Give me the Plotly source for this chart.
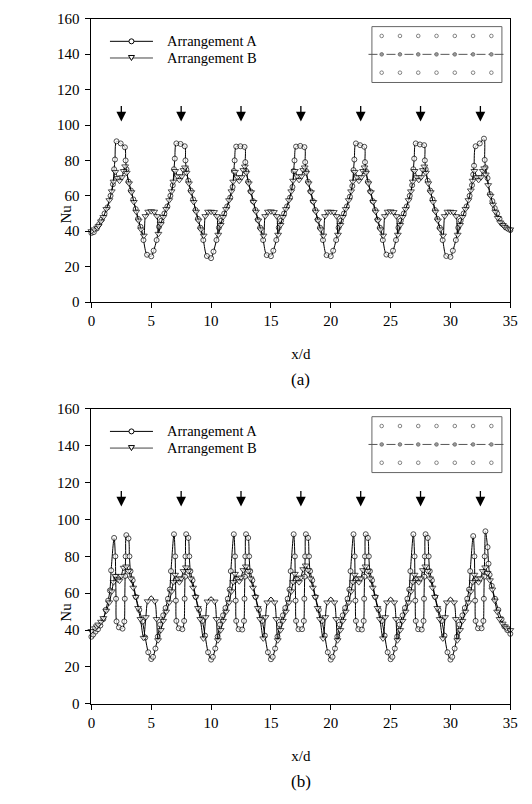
import plotly.graph_objects as go

FONT = "Liberation Serif"

# ---------------------------------------------------------------------------
# Data: Nu along x/d for two jet arrangements, two measurement lines (a), (b).
# Each 5d cycle (one jet) is sampled at the listed offsets from the cycle start.
# ---------------------------------------------------------------------------
cycle_start = [0, 5, 10, 15, 20, 25, 30]
jet_x = [2.5, 7.5, 12.5, 17.5, 22.5, 27.5, 32.5]
x_end = 35

# ---- panel (a), Arrangement A ----
a_A_off = [0.0, 0.2, 0.45, 0.65, 0.85, 1.1, 1.35, 1.6, 1.8, 1.9, 1.97, 2.1,
           2.45, 2.8, 2.86, 2.93, 3.1, 3.3, 3.5, 3.7, 3.9, 4.1, 4.35, 4.65]
a_A_nu = [
    [39.0, 39.5, 41.5, 44.0, 46.5, 50.0, 53.5, 60.0, 66.5, 75.0, 80.5, 90.8,
     89.6, 87.4, 80.0, 75.0, 68.0, 63.0, 58.0, 52.5, 47.0, 42.5, 35.0, 26.7],
    [25.8, 29.0, 35.0, 42.5, 46.0, 50.0, 54.0, 60.0, 66.0, 75.0, 81.0, 89.6,
     89.3, 88.0, 80.0, 75.0, 68.5, 63.0, 58.0, 52.0, 47.0, 42.0, 35.0, 26.0],
    [24.8, 28.5, 35.0, 42.0, 46.0, 50.0, 54.0, 59.0, 65.0, 74.0, 80.0, 87.8,
     88.0, 87.6, 79.0, 74.0, 68.0, 62.5, 57.0, 52.0, 46.5, 42.0, 35.0, 26.5],
    [25.9, 29.0, 35.0, 42.0, 46.0, 50.0, 54.0, 59.0, 65.0, 74.0, 80.0, 87.8,
     88.2, 87.5, 79.0, 74.0, 68.0, 62.5, 57.0, 52.0, 46.5, 42.0, 35.0, 26.5],
    [25.9, 29.0, 35.0, 42.0, 46.0, 50.0, 54.0, 59.5, 65.5, 74.5, 80.5, 89.6,
     88.6, 87.7, 79.0, 74.0, 68.0, 62.5, 57.0, 52.0, 46.5, 42.0, 35.0, 26.8],
    [26.3, 29.0, 35.0, 42.0, 46.0, 50.0, 54.0, 60.0, 66.0, 75.0, 81.0, 89.6,
     89.0, 88.6, 80.0, 75.0, 68.5, 63.0, 58.0, 52.0, 47.0, 42.0, 35.0, 26.0],
    [25.5, 29.0, 35.0, 42.0, 46.0, 50.0, 54.0, 60.0, 66.0, 72.0, 77.0, 88.0,
     89.6, 92.3, 80.3, 76.0, 70.0, 61.0, 57.0, 53.0, 50.0, 47.0, 44.0, 42.0],
]
a_A_last = 40.6

# ---- panel (a), Arrangement B ----
a_B_off = [0.0, 0.25, 0.48, 0.6, 0.8, 1.0, 1.25, 1.5, 1.7, 1.85, 2.0, 2.2, 2.35,
           2.55, 2.7, 2.82, 2.95, 3.15, 3.35, 3.55, 3.75, 3.95, 4.15, 4.38, 4.52, 4.75]
a_B_nu = [
    [40.0, 41.0, 42.0, 43.0, 45.5, 48.0, 52.5, 57.5, 62.5, 68.0, 73.5, 70.0, 68.5,
     70.5, 74.0, 76.6, 73.0, 67.0, 62.0, 56.5, 51.0, 46.0, 41.0, 37.5, 48.5, 51.0],
    [51.3, 51.0, 48.5, 38.5, 44.0, 48.0, 52.5, 57.5, 62.5, 68.0, 74.0, 71.0, 69.0,
     71.0, 74.5, 76.0, 73.0, 67.0, 62.0, 56.5, 51.0, 46.0, 41.0, 37.5, 48.5, 51.0],
    [51.0, 50.8, 48.5, 38.0, 43.5, 48.0, 52.5, 57.5, 62.5, 68.0, 73.5, 70.5, 68.5,
     70.5, 74.5, 76.5, 73.0, 67.0, 62.0, 56.5, 51.0, 46.0, 41.0, 37.5, 48.5, 51.0],
    [51.2, 50.8, 48.5, 38.0, 43.5, 48.0, 52.5, 57.5, 62.5, 68.5, 74.0, 71.0, 69.0,
     71.0, 74.5, 76.0, 73.0, 67.0, 62.0, 56.5, 51.0, 46.0, 41.0, 37.5, 48.5, 51.0],
    [51.0, 50.8, 48.5, 38.0, 43.5, 48.0, 52.5, 57.5, 62.5, 68.0, 73.5, 70.5, 68.5,
     70.5, 74.0, 76.0, 73.0, 67.0, 62.0, 56.5, 51.0, 46.0, 41.0, 37.5, 48.5, 51.0],
    [51.2, 50.8, 48.5, 38.0, 43.5, 48.0, 52.5, 57.5, 62.5, 68.0, 74.0, 70.5, 69.0,
     70.5, 74.5, 76.5, 73.0, 67.0, 62.0, 56.5, 51.0, 46.0, 41.0, 37.5, 48.5, 51.0],
    [51.0, 50.8, 48.5, 38.0, 43.5, 48.0, 52.5, 57.5, 63.0, 68.5, 74.0, 70.5, 69.0,
     70.5, 74.0, 75.5, 72.0, 66.0, 60.0, 55.0, 51.0, 47.5, 45.0, 43.5, 42.5, 41.5],
]
a_B_last = 41.0

# ---- panel (b), Arrangement A ----
b_A_off = [0.0, 0.15, 0.35, 0.55, 0.75, 1.0, 1.2, 1.4, 1.55, 1.65, 1.9, 2.0, 2.03,
           2.06, 2.1, 2.3, 2.6, 2.75, 2.79, 2.82, 2.86, 2.92, 3.1, 3.18, 3.27, 3.45,
           3.72, 4.0, 4.27, 4.5, 4.75]
b_A_nu = [
    [36.4, 37.6, 39.2, 40.5, 42.5, 46.0, 51.0, 56.0, 61.5, 72.4, 90.0, 80.0, 69.0,
     57.0, 44.7, 41.5, 40.8, 44.7, 57.0, 69.4, 80.0, 91.5, 89.7, 80.0, 72.0, 67.0,
     58.0, 51.0, 44.7, 36.0, 28.0],
    [24.3, 25.5, 30.0, 36.5, 43.0, 48.0, 52.0, 57.0, 62.0, 72.0, 92.0, 80.0, 67.0,
     56.0, 45.0, 41.0, 40.5, 45.0, 57.0, 69.0, 80.0, 92.0, 90.0, 80.0, 72.0, 67.0,
     58.0, 51.0, 45.0, 37.0, 28.0],
    [24.0, 25.5, 30.0, 36.5, 43.0, 48.0, 52.0, 57.0, 62.0, 72.0, 92.0, 80.0, 67.0,
     56.0, 45.0, 40.5, 40.3, 45.0, 57.0, 69.0, 80.0, 92.0, 90.0, 80.0, 72.0, 67.0,
     58.0, 51.0, 45.0, 37.0, 28.0],
    [24.2, 25.5, 30.0, 36.5, 43.0, 48.0, 52.0, 57.0, 62.0, 72.0, 92.0, 80.0, 67.0,
     56.0, 45.0, 40.5, 40.5, 45.0, 57.0, 69.0, 80.0, 92.0, 90.0, 80.0, 72.0, 67.0,
     58.0, 51.0, 45.0, 37.0, 28.0],
    [24.0, 25.5, 30.0, 36.5, 43.0, 48.0, 52.0, 57.0, 62.0, 72.0, 92.0, 80.0, 67.0,
     56.0, 45.0, 40.5, 40.3, 45.0, 57.0, 69.0, 80.0, 92.0, 90.0, 80.0, 72.0, 67.0,
     58.0, 51.0, 45.0, 37.0, 28.0],
    [24.2, 25.5, 30.0, 36.5, 43.0, 48.0, 52.0, 57.0, 62.0, 72.0, 92.0, 80.0, 67.0,
     56.0, 45.0, 40.5, 40.3, 45.0, 57.0, 69.0, 80.0, 92.0, 90.0, 80.0, 72.0, 67.0,
     58.0, 51.0, 45.0, 37.0, 28.0],
    [24.0, 25.5, 30.0, 36.5, 43.0, 48.0, 52.0, 57.0, 62.0, 72.0, 91.0, 80.0, 67.0,
     56.0, 45.0, 41.0, 41.0, 45.0, 57.0, 69.0, 80.0, 93.6, 85.0, 76.0, 70.0, 64.0,
     57.0, 51.0, 46.0, 42.0, 40.0],
]
b_A_last = 38.0

# ---- panel (b), Arrangement B ----
# the first entry of cycles 1..6 is the crest of the hump between jets
b_B_off = [0.0, 0.3, 0.45, 0.57, 0.8, 1.0, 1.25, 1.5, 1.7, 1.85, 2.0, 2.2, 2.35,
           2.5, 2.7, 2.9, 3.1, 3.3, 3.5, 3.7, 3.9, 4.1, 4.36, 4.55, 4.7]
b_B_nu = [
    [39.5, 41.0, 42.0, 43.0, 44.5, 46.5, 50.5, 55.0, 61.0, 66.0, 69.4, 67.5, 66.8,
     69.4, 73.8, 74.5, 72.0, 68.0, 63.0, 58.0, 52.0, 46.0, 35.8, 47.0, 55.6],
    [58.5, 55.6, 46.0, 34.5, 40.0, 45.0, 50.0, 55.0, 61.0, 66.0, 70.0, 68.0, 66.0,
     68.0, 72.0, 74.0, 72.0, 68.0, 63.0, 58.0, 52.0, 46.0, 35.5, 47.0, 55.5],
    [58.0, 55.5, 46.0, 34.5, 40.0, 45.0, 50.0, 55.0, 61.0, 66.0, 70.5, 68.0, 66.5,
     68.5, 72.5, 74.5, 72.0, 68.0, 63.0, 58.0, 52.0, 46.0, 35.5, 47.0, 55.0],
    [57.8, 55.0, 46.0, 34.5, 40.0, 45.0, 50.0, 55.0, 61.0, 66.0, 70.5, 68.0, 66.0,
     68.5, 73.0, 75.0, 72.5, 68.0, 63.0, 58.0, 52.0, 46.0, 35.5, 47.0, 55.0],
    [57.8, 55.0, 46.0, 34.5, 40.0, 45.0, 50.0, 55.0, 61.0, 66.0, 70.0, 68.0, 66.0,
     68.0, 72.5, 74.5, 72.0, 68.0, 63.0, 58.0, 52.0, 46.0, 35.5, 47.0, 55.0],
    [57.8, 55.0, 46.0, 34.5, 40.0, 45.0, 50.0, 55.0, 61.0, 66.0, 70.0, 68.0, 66.0,
     68.0, 72.5, 74.5, 72.0, 68.0, 63.0, 58.0, 52.0, 46.0, 35.5, 47.0, 55.0],
    [57.8, 55.0, 46.0, 34.5, 40.0, 45.0, 50.0, 55.0, 61.0, 66.0, 70.0, 68.0, 66.0,
     68.0, 72.0, 74.0, 71.0, 67.0, 62.0, 56.0, 50.0, 46.0, 43.5, 42.0, 41.0],
]
b_B_last = 40.0

arrow_tip = {"a": 102, "b": 107}
y_ticks = [0, 20, 40, 60, 80, 100, 120, 140, 160]
x_ticks = [0, 5, 10, 15, 20, 25, 30, 35]
series_names = ["Arrangement A", "Arrangement B"]


def assemble(offsets, rows, last):
    xs, ys = [], []
    for start, row in zip(cycle_start, rows):
        for off, v in zip(offsets, row):
            xs.append(start + off)
            ys.append(v)
    xs.append(x_end)
    ys.append(last)
    return xs, ys


# ---------------------------------------------------------------------------
# Page geometry (pixels) of the two plot areas
# ---------------------------------------------------------------------------
W, H = 532, 804
PLOT_L, PLOT_R = 89.4, 518.0
PANELS = {"a": (11.0, 300.0), "b": (409.0, 710.0)}

fig = go.Figure()

line_style = dict(color="black", width=1, shape="spline", smoothing=0.9)


def marker(symbol, size, xs, hide_crest=False):
    sizes = [size] * len(xs)
    if hide_crest:
        # crest points of the hump between jets are drawn without a symbol
        for i, x in enumerate(xs):
            if 0 < x < x_end and abs(x - round(x / 5) * 5) < 1e-9:
                sizes[i] = 0
    return dict(symbol=symbol, size=sizes, color="white",
                line=dict(color="black", width=1))


for key, xa, ya, parts in [
    ("a", "x", "y", [(a_A_off, a_A_nu, a_A_last, "circle", 5, False),
                     (a_B_off, a_B_nu, a_B_last, "triangle-down", 6, False)]),
    ("b", "x2", "y2", [(b_A_off, b_A_nu, b_A_last, "circle", 5, False),
                       (b_B_off, b_B_nu, b_B_last, "triangle-down", 6, True)]),
]:
    for (off, rows, last, sym, size, hide), name in zip(parts, series_names):
        xs, ys = assemble(off, rows, last)
        fig.add_trace(go.Scatter(
            x=xs, y=ys, name=name, mode="lines+markers", xaxis=xa, yaxis=ya,
            line=line_style, marker=marker(sym, size, xs, hide),
            cliponaxis=False, showlegend=False,
        ))

tick_font = dict(family=FONT, size=15, color="black")
title_font = dict(family=FONT, size=15, color="black")


def x_axis(domain, anchor):
    return dict(
        domain=domain, anchor=anchor, range=[0, 35], tickvals=x_ticks,
        ticks="outside", ticklen=5, tickwidth=1, tickcolor="black",
        showline=True, linecolor="black", linewidth=1, mirror=True,
        showgrid=False, zeroline=False, tickfont=tick_font,
        title=dict(text="x/d", font=title_font, standoff=20),
    )


def y_axis(domain, anchor):
    return dict(
        domain=domain, anchor=anchor, range=[0, 160], tickvals=y_ticks,
        ticks="outside", ticklen=5, tickwidth=1, tickcolor="black",
        showline=True, linecolor="black", linewidth=1, mirror=True,
        showgrid=False, zeroline=False, tickfont=tick_font,
        ticklabelstandoff=3,
    )


xdom = [PLOT_L / W, PLOT_R / W]
ydom = {k: [1 - b / H, 1 - t / H] for k, (t, b) in PANELS.items()}

fig.update_layout(
    width=W, height=H, autosize=False,
    margin=dict(l=0, r=0, t=0, b=0),
    paper_bgcolor="white", plot_bgcolor="white",
    showlegend=False,
    xaxis=x_axis(xdom, "y"), yaxis=y_axis(ydom["a"], "x"),
    xaxis2=x_axis(xdom, "y2"), yaxis2=y_axis(ydom["b"], "x2"),
)

shapes, annotations = [], []
pw = PLOT_R - PLOT_L


def dom(key, dx, dy):
    """Offsets (px) from a panel's top-left corner -> axis-domain fractions."""
    t, b = PANELS[key]
    return dx / pw, 1 - dy / (b - t)


for key, xr, yr, xa_name, ya_name in [("a", "x domain", "y domain", "x", "y"),
                                      ("b", "x2 domain", "y2 domain", "x2", "y2")]:
    # y-axis title, set low beside the tick labels
    annotations.append(dict(x=(PLOT_L - 26) / W, y=50, xref="paper", yref=ya_name,
                            text="Nu", textangle=-90, showarrow=False,
                            xanchor="center", yanchor="middle",
                            font=title_font))

    # jet-position arrows
    for jx in jet_x:
        annotations.append(dict(
            x=jx, y=arrow_tip[key], xref=xa_name, yref=ya_name, text="",
            showarrow=True, arrowhead=2, arrowsize=1.5, arrowwidth=1.3,
            arrowcolor="black", ax=0, ay=-17,
        ))

    # legend drawn inside the plot
    for i, (name, kind) in enumerate(zip(series_names, ["circle", "tri"])):
        dy = 23 + 17 * i
        x0, y0 = dom(key, 19, dy)
        x1, _ = dom(key, 63, dy)
        xm, _ = dom(key, 41, dy)
        xt, _ = dom(key, 76, dy)
        shapes.append(dict(type="line", xref=xr, yref=yr, x0=x0, x1=x1, y0=y0, y1=y0,
                           line=dict(color="black" if i == 0 else "#444", width=1)))
        if kind == "circle":
            shapes.append(dict(type="circle", xref=xr, yref=yr, xsizemode="pixel",
                               ysizemode="pixel", xanchor=xm, yanchor=y0,
                               x0=-2.5, x1=2.5, y0=-2.5, y1=2.5,
                               fillcolor="white", line=dict(color="black", width=1)))
        else:
            shapes.append(dict(type="path", xref=xr, yref=yr, xsizemode="pixel",
                               ysizemode="pixel", xanchor=xm, yanchor=y0,
                               path="M-3,2.5 L3,2.5 L0,-2.5 Z",
                               fillcolor="white", line=dict(color="black", width=1)))
        annotations.append(dict(x=xt, y=y0, xref=xr, yref=yr, text=name,
                                showarrow=False, xanchor="left", yanchor="middle",
                                borderpad=0,
                                font=dict(family=FONT, size=14.5, color="black")))

    # jet-arrangement sketch: plate outline, 3 x 7 holes, measurement line
    rx0, ry0 = dom(key, 287, 8)
    rx1, ry1 = dom(key, 420, 65)
    shapes.append(dict(type="rect", xref=xr, yref=yr, x0=rx0, x1=rx1, y0=ry1, y1=ry0,
                       line=dict(color="#666", width=1), fillcolor="white"))
    lx0, ly = dom(key, 283.5, 36.3)
    lx1, _ = dom(key, 424, 36.3)
    shapes.append(dict(type="line", xref=xr, yref=yr, x0=lx0, x1=lx1, y0=ly, y1=ly,
                       line=dict(color="#555", width=1, dash="dashdot")))
    for r, ry in enumerate([17.5, 36.3, 55]):
        for c in range(7):
            hx, hy = dom(key, 297 + 18.7 * c, ry)
            shapes.append(dict(type="circle", xref=xr, yref=yr, xsizemode="pixel",
                               ysizemode="pixel", xanchor=hx, yanchor=hy,
                               x0=-1.8, x1=1.8, y0=-1.8, y1=1.8,
                               fillcolor="#999" if r == 1 else "white",
                               line=dict(color="#666", width=0.8)))

# panel captions
for key, label in [("a", "(a)"), ("b", "(b)")]:
    annotations.append(dict(x=(PLOT_L + PLOT_R) / 2 / W, y=1 - (PANELS[key][1] + 79) / H,
                            xref="paper", yref="paper", text=label, showarrow=False,
                            xanchor="center", yanchor="middle",
                            font=dict(family=FONT, size=17, color="black")))

fig.update_layout(shapes=shapes, annotations=annotations)
fig.write_html("out.html")
